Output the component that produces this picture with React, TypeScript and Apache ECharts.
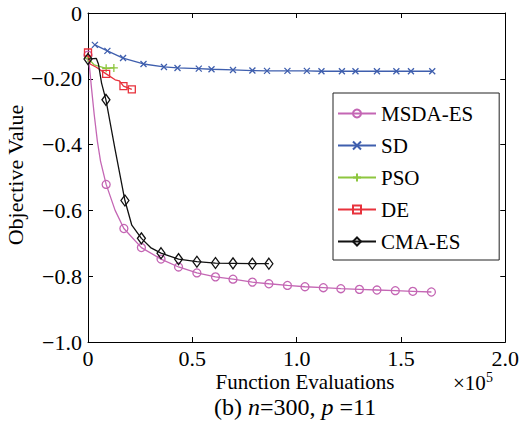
import React, { useEffect, useRef } from 'react';
import * as echarts from 'echarts';

const seriesNames = ['MSDA-ES', 'SD', 'PSO', 'DE', 'CMA-ES'];
const seriesColors = ['#c466b4', '#3f5fae', '#8dc63f', '#e8323c', '#111111'];

const xTickLabels = ['0', '0.5', '1.0', '1.5', '2.0'];
const yTickLabels = ['\u22121.0', '\u22120.8', '\u22120.6', '\u22120.4', '\u22120.20', '0'];

// MSDA-ES
const msdaX = [0, 0.008, 0.017, 0.03, 0.045, 0.06, 0.087, 0.13, 0.172, 0.256, 0.35, 0.434, 0.522, 0.611, 0.695, 0.788, 0.867, 0.956, 1.04, 1.128, 1.212, 1.301, 1.385, 1.473, 1.557, 1.646];
const msdaY = [-0.128, -0.17, -0.23, -0.31, -0.39, -0.45, -0.521, -0.6, -0.655, -0.713, -0.748, -0.772, -0.79, -0.802, -0.809, -0.818, -0.823, -0.828, -0.832, -0.835, -0.838, -0.84, -0.842, -0.844, -0.846, -0.848];
const msdaMark = [1, 0, 0, 0, 0, 0, 1, 0, 1, 1, 1, 1, 1, 1, 1, 1, 1, 1, 1, 1, 1, 1, 1, 1, 1, 1];

// SD
const sdX = [0.033, 0.093, 0.168, 0.266, 0.364, 0.429, 0.531, 0.592, 0.695, 0.788, 0.858, 0.956, 1.049, 1.119, 1.217, 1.282, 1.385, 1.478, 1.548, 1.65];
const sdY = [-0.097, -0.115, -0.137, -0.155, -0.164, -0.167, -0.169, -0.171, -0.173, -0.175, -0.176, -0.176, -0.176, -0.177, -0.177, -0.177, -0.177, -0.177, -0.177, -0.177];
const sdMark = [1, 1, 1, 1, 1, 1, 1, 1, 1, 1, 1, 1, 1, 1, 1, 1, 1, 1, 1, 1];

// PSO
const psoX = [0, 0.03, 0.087, 0.124];
const psoY = [-0.137, -0.158, -0.168, -0.167];
const psoMark = [1, 0, 1, 1];

// DE
const deX = [0, 0.01, 0.04, 0.087, 0.13, 0.15, 0.17, 0.21];
const deY = [-0.12, -0.155, -0.165, -0.185, -0.203, -0.206, -0.222, -0.232];
const deMark = [1, 0, 0, 1, 0, 0, 1, 1];

// CMA-ES
const cmaX = [0, 0.04, 0.05, 0.065, 0.086, 0.13, 0.177, 0.21, 0.256, 0.3, 0.35, 0.434, 0.522, 0.611, 0.695, 0.788, 0.867];
const cmaY = [-0.14, -0.138, -0.155, -0.213, -0.264, -0.415, -0.57, -0.645, -0.685, -0.713, -0.73, -0.748, -0.756, -0.76, -0.761, -0.762, -0.762];
const cmaMark = [1, 0, 0, 0, 1, 0, 1, 0, 1, 0, 1, 1, 1, 1, 1, 1, 1];

const FONT = '"Liberation Serif", "Times New Roman", serif';

function build(xs: number[], ys: number[], marks: number[]) {
  return xs.map((x, i) => (marks[i] ? [x, ys[i]] : { value: [x, ys[i]], symbol: 'none' }));
}

const symbols = [
  'circle',
  'path://M0,0L10,10M10,0L0,10',
  'path://M5,0L5,10M0,5L10,5',
  'rect',
  'diamond',
];
const symbolSizes: any[] = [8, 6, 8, 7, [8, 11]];

export default function App() {
  const ref = useRef<HTMLDivElement>(null);
  useEffect(() => {
    if (!ref.current) return;
    const chart = echarts.init(ref.current, undefined, { renderer: 'svg' });
    const datas = [
      build(msdaX, msdaY, msdaMark),
      build(sdX, sdY, sdMark),
      build(psoX, psoY, psoMark),
      build(deX, deY, deMark),
      build(cmaX, cmaY, cmaMark),
    ];
    const axisCommon = {
      axisLine: { show: true, onZero: false, lineStyle: { color: '#000', width: 1 } },
      axisTick: { show: true, inside: true, length: 5, lineStyle: { color: '#000', width: 1 } },
      splitLine: { show: false },
    };
    const xLabelFmt = (v: number) => xTickLabels[Math.round(v / 0.5)];
    const yLabelFmt = (v: number) => yTickLabels[Math.round((v + 1) / 0.2)];
    chart.setOption({
      animation: false,
      backgroundColor: '#fff',
      grid: { left: 88, top: 13, right: 5, bottom: 83 },
      xAxis: [
        {
          type: 'value', min: 0, max: 2, interval: 0.5, position: 'bottom',
          ...axisCommon,
          axisLabel: { margin: 5, fontSize: 22, color: '#000', fontFamily: FONT, formatter: xLabelFmt, alignMaxLabel: 'center', alignMinLabel: 'center' },
        },
        {
          type: 'value', min: 0, max: 2, interval: 0.5, position: 'top',
          ...axisCommon,
          axisLabel: { show: false },
        },
      ],
      yAxis: [
        {
          type: 'value', min: -1, max: 0, interval: 0.2, position: 'left',
          ...axisCommon,
          axisLabel: { margin: 6, fontSize: 22, color: '#000', fontFamily: FONT, formatter: yLabelFmt },
        },
        {
          type: 'value', min: -1, max: 0, interval: 0.2, position: 'right',
          ...axisCommon,
          axisLabel: { show: false },
        },
      ],
      legend: {
        orient: 'vertical',
        left: 333,
        top: 93,
        padding: [10, 26, 8, 4],
        itemWidth: 38,
        itemHeight: 10,
        itemGap: 11,
        borderColor: '#222',
        borderWidth: 1,
        backgroundColor: '#fff',
        borderRadius: 0,
        textStyle: { fontSize: 21, lineHeight: 21, color: '#000', fontFamily: FONT },
        data: seriesNames,
      },
      series: seriesNames.map((name, i) => ({
        name,
        type: 'line',
        data: datas[i],
        symbol: symbols[i],
        symbolSize: symbolSizes[i],
        showAllSymbol: true,
        lineStyle: { color: seriesColors[i], width: 1.3 },
        itemStyle: { color: 'transparent', borderColor: seriesColors[i], borderWidth: 1.3 },
        emphasis: { disabled: true },
        z: 2 + i,
      })),
      graphic: [
        {
          type: 'text', x: 15, y: 175, rotation: Math.PI / 2,
          style: { text: 'Objective Value', fontSize: 22, fontFamily: FONT, fill: '#000', align: 'center', verticalAlign: 'middle' },
        },
        {
          type: 'text', x: 305, y: 382,
          style: { text: 'Function Evaluations', fontSize: 21, fontFamily: FONT, fill: '#000', align: 'center', verticalAlign: 'middle' },
        },
        {
          type: 'text', x: 453, y: 383,
          style: { text: '\u00d710', fontSize: 21, fontFamily: FONT, fill: '#000', align: 'left', verticalAlign: 'middle' },
        },
        {
          type: 'text', x: 486, y: 377,
          style: { text: '5', fontSize: 14, fontFamily: FONT, fill: '#000', align: 'left', verticalAlign: 'middle' },
        },
        {
          type: 'text', x: 214, y: 407,
          style: {
            text: '(b) {i|n}=300, {i|p} =11',
            fontSize: 24, fontFamily: FONT, fill: '#000', align: 'left', verticalAlign: 'middle',
            rich: { i: { fontSize: 24, fontFamily: FONT, fontStyle: 'italic', fill: '#000' } },
          },
        },
      ],
    });
    return () => chart.dispose();
  }, []);
  return <div ref={ref} style={{ position: 'fixed', left: 0, top: 0, width: 522, height: 425 }} />;
}
